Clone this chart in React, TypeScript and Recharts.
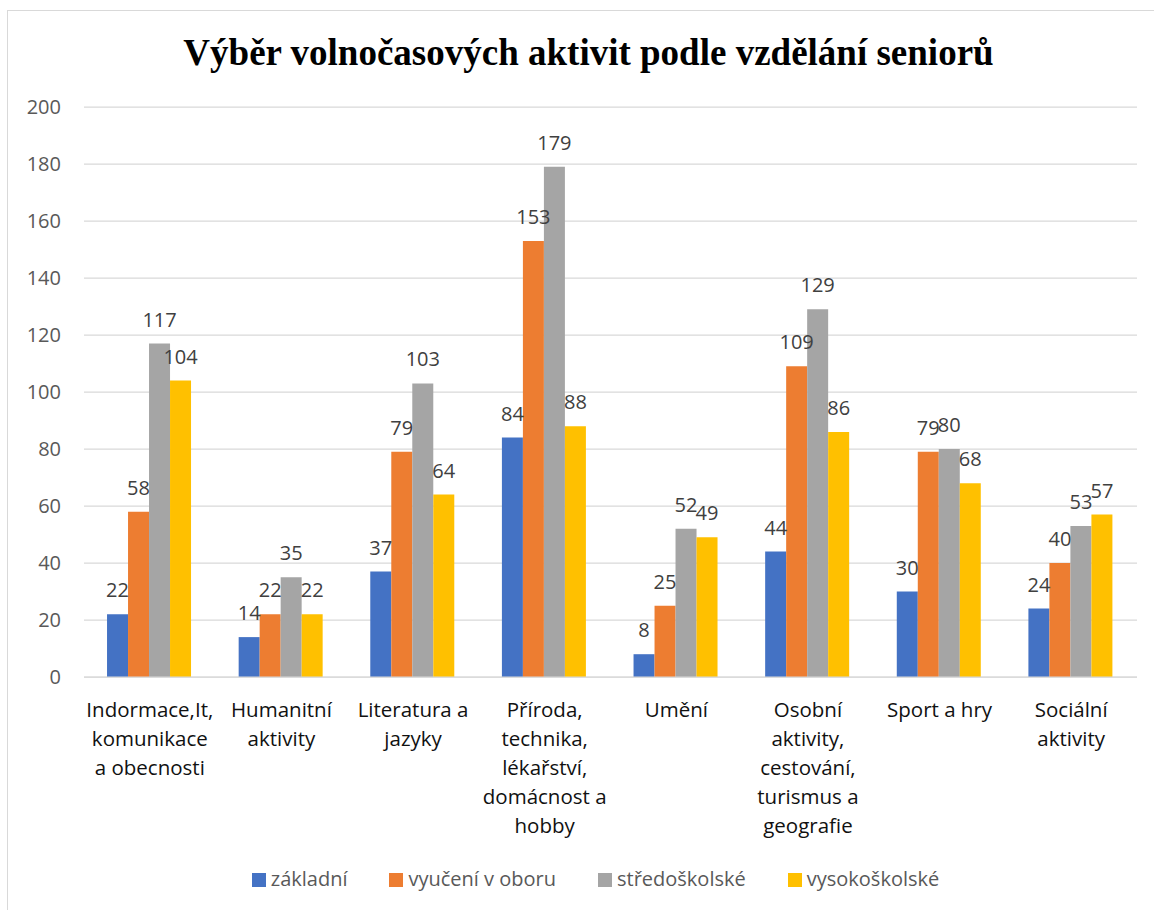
import {
  BarChart,
  Bar,
  XAxis,
  YAxis,
  CartesianGrid,
  Legend,
  LabelList,
} from "recharts";

const categories = [
  "Indormace,It, komunikace a obecnosti",
  "Humanitní aktivity",
  "Literatura a jazyky",
  "Příroda, technika, lékařství, domácnost a hobby",
  "Umění",
  "Osobní aktivity, cestování, turismus a geografie",
  "Sport a hry",
  "Sociální aktivity",
];

const zakladni = [22, 14, 37, 84, 8, 44, 30, 24];
const vyuceni = [58, 22, 79, 153, 25, 109, 79, 40];
const stredoskolske = [117, 35, 103, 179, 52, 129, 80, 53];
const vysokoskolske = [104, 22, 64, 88, 49, 86, 68, 57];

const seriesNames = ["základní", "vyučení v oboru", "středoškolské", "vysokoškolské"];
const seriesKeys = ["zakladni", "vyuceni", "stredoskolske", "vysokoskolske"];
const seriesColors = ["#4472C4", "#ED7D31", "#A5A5A5", "#FFC000"];

const yTicks = [0, 20, 40, 60, 80, 100, 120, 140, 160, 180, 200];

const data = categories.map((name, i) => ({
  name,
  zakladni: zakladni[i],
  vyuceni: vyuceni[i],
  stredoskolske: stredoskolske[i],
  vysokoskolske: vysokoskolske[i],
}));

const FONT = '"Open Sans", sans-serif';
const TICK_SIZE = 20.5;

// greedy word wrap measured with canvas, same font as the labels
function wrapWords(text: string, maxWidth: number): string[] {
  const ctx = document.createElement("canvas").getContext("2d");
  if (!ctx) return [text];
  ctx.font = `${TICK_SIZE}px "Open Sans"`;
  const words = text.split(" ");
  const lines: string[] = [];
  let cur = "";
  for (const w of words) {
    const test = cur ? cur + " " + w : w;
    if (cur && ctx.measureText(test).width > maxWidth) {
      lines.push(cur);
      cur = w;
    } else {
      cur = test;
    }
  }
  if (cur) lines.push(cur);
  return lines;
}

function CategoryTick(props: any) {
  const { x, y, payload } = props;
  const lines = wrapWords(String(payload.value), 128);
  return (
    <text
      x={x}
      y={y}
      textAnchor="middle"
      fill="#111"
      style={{ fontSize: TICK_SIZE, fontFamily: FONT }}
    >
      {lines.map((ln, i) => (
        <tspan key={i} x={x} y={y + 14.5 + i * 29}>
          {ln}
        </tspan>
      ))}
    </text>
  );
}

function LegendContent() {
  return (
    <div
      style={{
        display: "flex",
        justifyContent: "center",
        gap: 42,
        paddingLeft: 30,
        height: 27,
        lineHeight: "27px",
        fontFamily: FONT,
        fontSize: 20,
        color: "#595959",
      }}
    >
      {seriesNames.map((n, i) => (
        <span key={n} style={{ display: "flex", alignItems: "center" }}>
          <span
            style={{
              display: "inline-block",
              width: 14,
              height: 14,
              background: seriesColors[i],
              marginRight: 5,
              marginTop: 2,
            }}
          />
          {n}
        </span>
      ))}
    </div>
  );
}

export default function App() {
  return (
    <div
      style={{
        position: "absolute",
        left: 0,
        top: 0,
        width: 1154,
        height: 910,
        overflow: "hidden",
        background: "#fff",
      }}
    >
      <div
        style={{
          position: "absolute",
          left: 7,
          top: 10,
          width: 1200,
          height: 1000,
          border: "1.5px solid #d9d9d9",
        }}
      />
      <div
        style={{
          position: "absolute",
          left: 0,
          top: 34,
          width: 1177,
          textAlign: "center",
          fontFamily: '"Liberation Serif", "Times New Roman", serif',
          fontWeight: "bold",
          fontSize: 37,
          lineHeight: "37px",
          color: "#000",
        }}
      >
        Výběr volnočasových aktivit podle vzdělání seniorů
      </div>
      <BarChart
        width={1154}
        height={910}
        data={data}
        margin={{ top: 107, right: 17, left: 24, bottom: 18 }}
        barGap={0}
        barCategoryGap="17.5%"
        style={{ position: "absolute", left: 0, top: 0 }}
      >
        <CartesianGrid vertical={false} stroke="#d9d9d9" strokeWidth={1.25} />
        <XAxis
          dataKey="name"
          height={188}
          interval={0}
          tickLine={false}
          axisLine={{ stroke: "#d9d9d9", strokeWidth: 1.25 }}
          tickMargin={19}
          tick={<CategoryTick />}
        />
        <YAxis
          width={60}
          domain={[0, 200]}
          ticks={yTicks}
          axisLine={false}
          tickLine={false}
          tickMargin={17}
          tick={{ fill: "#595959", fontSize: 20, fontFamily: FONT }}
        />
        <Legend verticalAlign="bottom" content={<LegendContent />} />
        {seriesKeys.map((key, i) => (
          <Bar
            key={key}
            dataKey={key}
            name={seriesNames[i]}
            fill={seriesColors[i]}
            isAnimationActive={false}
          >
            <LabelList
              dataKey={key}
              position="top"
              offset={17}
              fill="#404040"
              style={{ fontSize: 20, fontFamily: FONT }}
            />
          </Bar>
        ))}
      </BarChart>
    </div>
  );
}
